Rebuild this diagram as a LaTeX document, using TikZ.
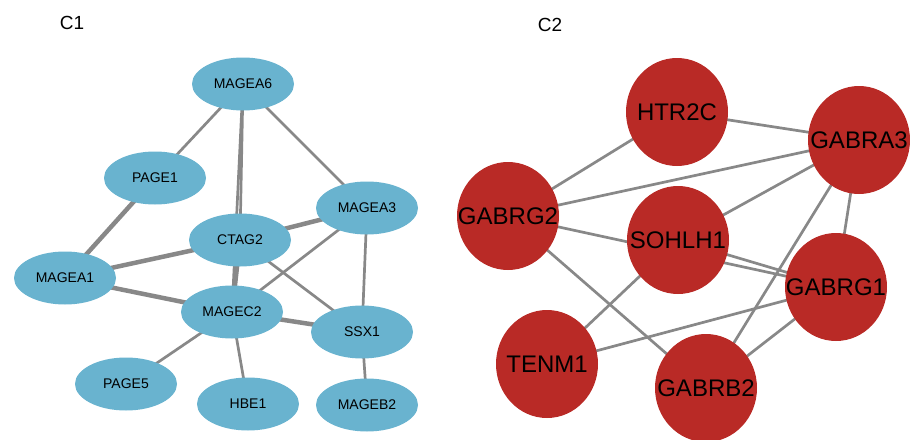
\documentclass[tikz,border=0pt]{standalone}
\usepackage{fontspec}
\setmainfont{Liberation Sans}
\usetikzlibrary{shapes.geometric,backgrounds}
\definecolor{cblue}{RGB}{105,179,207}
\definecolor{cred}{RGB}{185,42,38}
\definecolor{cedge}{RGB}{136,136,136}
\newcommand{\zw}[1]{\makebox[0pt]{#1}}
\tikzset{
  bnode/.style={ellipse,fill=cblue,draw=none,minimum width=102pt,minimum height=53pt,inner sep=0pt,font=\fontsize{14}{17}\selectfont},
  rnode/.style={ellipse,fill=cred,draw=none,minimum width=102pt,minimum height=108pt,inner sep=0pt,font=\fontsize{24}{28}\selectfont},
  thin edge/.style={draw=cedge,line width=2.7pt},
  thick edge/.style={draw=cedge,line width=4.5pt},
  title/.style={font=\fontsize{19}{22}\selectfont}
}
\begin{document}
\begin{tikzpicture}[x=1pt,y=-1pt]
\useasboundingbox (0,0) rectangle (910,439);
\node[title] (c1) at (72,23) {C1};
\node[title] (c2) at (550,25) {C2};
% C1 nodes
\node[bnode] (MAGEA6) at (243,84) {\zw{MAGEA6}};
\node[bnode] (PAGE1) at (155,178) {\zw{PAGE1}};
\node[bnode] (MAGEA3) at (367,208) {\zw{MAGEA3}};
\node[bnode] (CTAG2) at (240,240) {\zw{CTAG2}};
\node[bnode] (MAGEA1) at (65,278) {\zw{MAGEA1}};
\node[bnode] (MAGEC2) at (232,312) {\zw{MAGEC2}};
\node[bnode] (SSX1) at (362,332) {\zw{SSX1}};
\node[bnode] (PAGE5) at (126,384) {\zw{PAGE5}};
\node[bnode] (HBE1) at (248,404) {\zw{HBE1}};
\node[bnode] (MAGEB2) at (367,405) {\zw{MAGEB2}};
% C2 nodes
\node[rnode] (HTR2C) at (677,112) {\zw{HTR2C}};
\node[rnode] (GABRA3) at (859,140) {\zw{GABRA3}};
\node[rnode] (GABRG2) at (508,216) {\zw{GABRG2}};
\node[rnode] (SOHLH1) at (678,240) {\zw{SOHLH1}};
\node[rnode] (GABRG1) at (836,287) {\zw{GABRG1}};
\node[rnode] (TENM1) at (547,364) {\zw{TENM1}};
\node[rnode] (GABRB2) at (706,388) {\zw{GABRB2}};
\begin{pgfonlayer}{background}
% C1 edges
\path[thin edge] (MAGEA6.center) -- (PAGE1.center);
\path[thin edge] (MAGEA6.center) -- (CTAG2.center);
\path[thin edge] (MAGEA6.center) -- (MAGEC2.center);
\path[thin edge] (MAGEA6.center) -- (MAGEA3.center);
\path[thick edge] (PAGE1.center) -- (MAGEA1.center);
\path[thick edge] (CTAG2.center) -- (MAGEA3.center);
\path[thick edge] (CTAG2.center) -- (MAGEA1.center);
\path[thick edge] (CTAG2.center) -- (MAGEC2.center);
\path[thin edge] (CTAG2.center) -- (SSX1.center);
\path[thick edge] (MAGEA1.center) -- (MAGEC2.center);
\path[thin edge] (MAGEA3.center) -- (MAGEC2.center);
\path[thin edge] (MAGEA3.center) -- (SSX1.center);
\path[thick edge] (MAGEC2.center) -- (SSX1.center);
\path[thin edge] (MAGEC2.center) -- (PAGE5.center);
\path[thin edge] (MAGEC2.center) -- (HBE1.center);
\path[thin edge] (SSX1.center) -- (MAGEB2.center);
% C2 edges
\path[thin edge] (HTR2C.center) -- (GABRG2.center);
\path[thin edge] (HTR2C.center) -- (GABRA3.center);
\path[thin edge] (GABRG2.center) -- (GABRA3.center);
\path[thin edge] (GABRA3.center) -- (SOHLH1.center);
\path[thin edge] (GABRA3.center) -- (GABRB2.center);
\path[thin edge] (GABRA3.center) -- (GABRG1.center);
\path[thin edge] (GABRG2.center) -- (GABRG1.center);
\path[thin edge] (GABRG2.center) -- (GABRB2.center);
\path[thin edge] (SOHLH1.center) -- (GABRG1.center);
\path[thin edge] (SOHLH1.center) -- (TENM1.center);
\path[thin edge] (TENM1.center) -- (GABRG1.center);
\path[thin edge] (GABRB2.center) -- (GABRG1.center);
\end{pgfonlayer}
\end{tikzpicture}
\end{document}
